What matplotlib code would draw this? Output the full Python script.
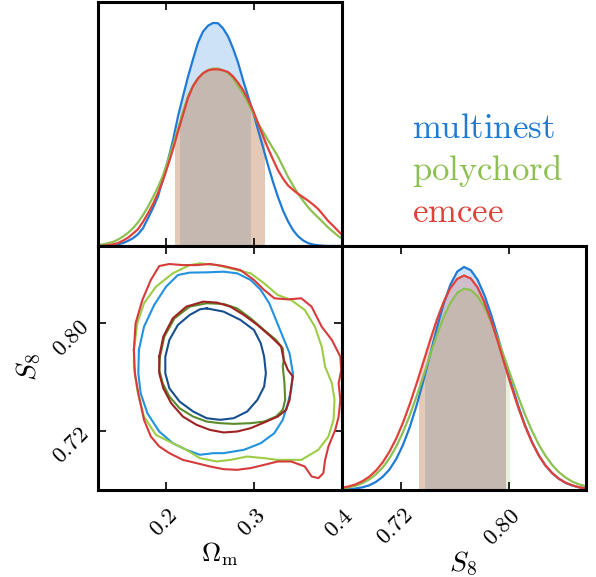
import numpy as np
import matplotlib
matplotlib.use("Agg")
import matplotlib.pyplot as plt
from matplotlib.patches import Rectangle

plt.rcParams["mathtext.fontset"] = "cm"

# --- 1D marginal of Omega_m (heights relative to panel height) ---
om_grid = np.linspace(0.1227, 0.4012, 50)  # sample positions read every ~5 px
om_multinest = [0.0, 0.0, 0.001, 0.003, 0.007, 0.012, 0.021, 0.032, 0.048, 0.073,
                0.114, 0.156, 0.203, 0.276, 0.352, 0.434, 0.531, 0.614, 0.694, 0.766,
                0.834, 0.879, 0.903, 0.914, 0.913, 0.892, 0.859, 0.810, 0.752, 0.680,
                0.614, 0.548, 0.476, 0.404, 0.331, 0.262, 0.200, 0.145, 0.101, 0.065,
                0.040, 0.023, 0.012, 0.006, 0.003, 0.001, 0.0, 0.0, 0.0, 0.0]
om_polychord = [0.003, 0.007, 0.011, 0.017, 0.026, 0.039, 0.054, 0.073, 0.097, 0.127,
                0.161, 0.200, 0.241, 0.290, 0.352, 0.414, 0.483, 0.552, 0.614, 0.658,
                0.687, 0.708, 0.721, 0.727, 0.727, 0.720, 0.709, 0.687, 0.655, 0.625,
                0.586, 0.545, 0.503, 0.469, 0.434, 0.400, 0.366, 0.324, 0.283, 0.248,
                0.214, 0.186, 0.159, 0.137, 0.117, 0.097, 0.076, 0.059, 0.041, 0.028]
om_emcee = [0.0, 0.001, 0.003, 0.007, 0.012, 0.022, 0.034, 0.051, 0.069, 0.099,
            0.134, 0.172, 0.217, 0.269, 0.331, 0.397, 0.469, 0.538, 0.607, 0.655,
            0.687, 0.708, 0.720, 0.724, 0.724, 0.720, 0.713, 0.695, 0.669, 0.639,
            0.600, 0.556, 0.503, 0.451, 0.400, 0.354, 0.310, 0.276, 0.248, 0.230,
            0.214, 0.200, 0.186, 0.170, 0.152, 0.128, 0.103, 0.083, 0.062, 0.041]
om_int_multinest = (0.2159, 0.2954)
om_int_polychord = (0.2100, 0.3117)
om_int_emcee = (0.2105, 0.3110)

# --- 1D marginal of S8 ---
s8_grid = np.linspace(0.676, 0.8575, 37)  # sample positions read every ~7 px
s8_multinest = [0.002, 0.003, 0.006, 0.011, 0.019, 0.033, 0.054, 0.084, 0.127, 0.185,
                0.258, 0.346, 0.447, 0.555, 0.664, 0.763, 0.842, 0.895, 0.914, 0.901,
                0.862, 0.799, 0.719, 0.627, 0.530, 0.434, 0.345, 0.266, 0.199, 0.144,
                0.101, 0.069, 0.046, 0.029, 0.018, 0.011, 0.006]
s8_polychord = [0.006, 0.011, 0.017, 0.028, 0.043, 0.064, 0.092, 0.130, 0.178, 0.237,
                0.306, 0.384, 0.467, 0.553, 0.635, 0.709, 0.767, 0.808, 0.825, 0.820,
                0.794, 0.749, 0.690, 0.618, 0.540, 0.460, 0.382, 0.309, 0.244, 0.188,
                0.141, 0.103, 0.073, 0.051, 0.034, 0.023, 0.015]
s8_emcee = [0.009, 0.015, 0.023, 0.036, 0.054, 0.079, 0.113, 0.157, 0.211, 0.276,
            0.352, 0.436, 0.524, 0.613, 0.698, 0.771, 0.828, 0.865, 0.879, 0.867,
            0.830, 0.770, 0.694, 0.607, 0.514, 0.423, 0.338, 0.262, 0.197, 0.143,
            0.101, 0.070, 0.046, 0.030, 0.019, 0.011, 0.007]
s8_int_multinest = (0.7375, 0.7975)
s8_int_polychord = (0.7330, 0.8000)
s8_int_emcee = (0.7330, 0.7975)

# --- 2D contours (Omega_m, S8) ---
inner_multinest_om = [0.2462, 0.2654, 0.2846, 0.3000, 0.3077, 0.3115, 0.3135, 0.3115,
                      0.3038, 0.2923, 0.2769, 0.2615, 0.2462, 0.2308, 0.2154, 0.2038,
                      0.1992, 0.1992, 0.2038, 0.2135, 0.2269, 0.2385]
inner_multinest_s8 = [0.8111, 0.8087, 0.8025, 0.7950, 0.7851, 0.7752, 0.7628, 0.7529,
                      0.7430, 0.7344, 0.7294, 0.7282, 0.7294, 0.7344, 0.7418, 0.7517,
                      0.7628, 0.7752, 0.7876, 0.7988, 0.8062, 0.8104]
inner_polychord_om = [0.1931, 0.1981, 0.2096, 0.2269, 0.2462, 0.2654, 0.2808, 0.2962,
                      0.3115, 0.3250, 0.3327, 0.3338, 0.3327, 0.3346, 0.3354, 0.3327,
                      0.3250, 0.3115, 0.2962, 0.2769, 0.2615, 0.2462, 0.2308, 0.2154,
                      0.2038, 0.1962, 0.1923]
inner_polychord_s8 = [0.7752, 0.7901, 0.8037, 0.8124, 0.8149, 0.8144, 0.8111, 0.8037,
                      0.7950, 0.7876, 0.7814, 0.7728, 0.7678, 0.7554, 0.7430, 0.7356,
                      0.7306, 0.7269, 0.7257, 0.7252, 0.7257, 0.7269, 0.7306, 0.7368,
                      0.7455, 0.7554, 0.7653]
inner_emcee_om = [0.1923, 0.1969, 0.2077, 0.2231, 0.2423, 0.2577, 0.2731, 0.2885,
                  0.3038, 0.3192, 0.3308, 0.3338, 0.3385, 0.3442, 0.3423, 0.3404,
                  0.3365, 0.3269, 0.3115, 0.2962, 0.2808, 0.2654, 0.2500, 0.2346,
                  0.2192, 0.2058, 0.1969, 0.1923]
inner_emcee_s8 = [0.7752, 0.7901, 0.8037, 0.8124, 0.8161, 0.8154, 0.8124, 0.8062,
                  0.7988, 0.7901, 0.7827, 0.7728, 0.7653, 0.7604, 0.7529, 0.7430,
                  0.7356, 0.7306, 0.7262, 0.7220, 0.7195, 0.7188, 0.7207, 0.7245,
                  0.7306, 0.7406, 0.7517, 0.7628]
outer_multinest_om = [0.1692, 0.1750, 0.1865, 0.2000, 0.2135, 0.2269, 0.2462, 0.2654,
                      0.2808, 0.2962, 0.3077, 0.3173, 0.3250, 0.3327, 0.3404, 0.3442,
                      0.3423, 0.3385, 0.3327, 0.3231, 0.3077, 0.2885, 0.2654, 0.2538,
                      0.2385, 0.2231, 0.2077, 0.1923, 0.1788, 0.1712, 0.1685]
outer_multinest_s8 = [0.7802, 0.7975, 0.8136, 0.8272, 0.8359, 0.8377, 0.8379, 0.8384,
                      0.8372, 0.8322, 0.8248, 0.8149, 0.8025, 0.7901, 0.7777, 0.7628,
                      0.7505, 0.7406, 0.7282, 0.7183, 0.7108, 0.7059, 0.7034, 0.7034,
                      0.7022, 0.7059, 0.7108, 0.7195, 0.7331, 0.7480, 0.7628]
outer_polychord_om = [0.1635, 0.1673, 0.1750, 0.1885, 0.2077, 0.2269, 0.2385, 0.2577,
                      0.2808, 0.2962, 0.3115, 0.3269, 0.3423, 0.3577, 0.3692, 0.3769,
                      0.3808, 0.3885, 0.3915, 0.3904, 0.3846, 0.3731, 0.3538, 0.3269,
                      0.3115, 0.2923, 0.2731, 0.2577, 0.2385, 0.2231, 0.2077, 0.1885,
                      0.1750, 0.1673, 0.1635]
outer_polychord_s8 = [0.7802, 0.8000, 0.8149, 0.8272, 0.8372, 0.8433, 0.8446, 0.8433,
                      0.8396, 0.8372, 0.8297, 0.8211, 0.8173, 0.8099, 0.7975, 0.7827,
                      0.7678, 0.7554, 0.7430, 0.7282, 0.7158, 0.7059, 0.6984, 0.6984,
                      0.6997, 0.7009, 0.6984, 0.6972, 0.6997, 0.7059, 0.7108, 0.7170,
                      0.7307, 0.7505, 0.7678]
outer_emcee_om = [0.1635, 0.1654, 0.1731, 0.1827, 0.1923, 0.2038, 0.2192, 0.2346,
                  0.2500, 0.2654, 0.2846, 0.3000, 0.3115, 0.3231, 0.3385, 0.3538,
                  0.3654, 0.3769, 0.3885, 0.3981, 0.3992, 0.3962, 0.3981, 0.3962,
                  0.3923, 0.3846, 0.3808, 0.3788, 0.3731, 0.3654, 0.3577, 0.3423,
                  0.3269, 0.3115, 0.2962, 0.2808, 0.2654, 0.2500, 0.2346, 0.2192,
                  0.2038, 0.1923, 0.1827, 0.1750, 0.1692, 0.1646]
outer_emcee_s8 = [0.7802, 0.8000, 0.8173, 0.8322, 0.8426, 0.8441, 0.8433, 0.8433,
                  0.8441, 0.8426, 0.8396, 0.8322, 0.8248, 0.8186, 0.8178, 0.8186,
                  0.8124, 0.7975, 0.7876, 0.7752, 0.7653, 0.7554, 0.7430, 0.7306,
                  0.7207, 0.7084, 0.6984, 0.6885, 0.6848, 0.6861, 0.6935, 0.6972,
                  0.6972, 0.6947, 0.6923, 0.6910, 0.6915, 0.6935, 0.6960, 0.6984,
                  0.7034, 0.7084, 0.7158, 0.7282, 0.7455, 0.7628]

names = ["multinest", "polychord", "emcee"]
line_colors = ["#1f7bd6", "#8cc152", "#e2403a"]
outer_colors = ["#2192e0", "#9ccd45", "#d63b3b"]
inner_colors = ["#154f8e", "#5a8a2a", "#9e2222"]

om_lim = (0.1227, 0.4)
s8_lim = (0.676, 0.8575)

fig = plt.figure(figsize=(5.96, 5.77), dpi=100)
W, H = 596, 577
ax_om = fig.add_axes([98 / W, (H - 246) / H, 244 / W, 244 / H])
ax_2d = fig.add_axes([98 / W, (H - 490) / H, 244 / W, 244 / H])
ax_s8 = fig.add_axes([342 / W, (H - 490) / H, 244 / W, 244 / H])


def draw_1d(ax, grid, curves, intervals):
    x = np.asarray(grid)
    for y, (lo, hi), c in zip(curves, intervals, line_colors):
        poly = ax.fill_between(x, 0, y, color=c, alpha=0.22, lw=0)
        clip = Rectangle((lo, 0), hi - lo, 2, transform=ax.transData)
        poly.set_clip_path(clip)
    for y, c in zip(curves, line_colors):
        ax.plot(x, y, color=c, lw=1.6)
    ax.set_ylim(0, 1.0)
    ax.set_yticks([])


draw_1d(ax_om, om_grid, [om_multinest, om_polychord, om_emcee],
        [om_int_multinest, om_int_polychord, om_int_emcee])
draw_1d(ax_s8, s8_grid, [s8_multinest, s8_polychord, s8_emcee],
        [s8_int_multinest, s8_int_polychord, s8_int_emcee])

outer = [(outer_multinest_om, outer_multinest_s8),
         (outer_polychord_om, outer_polychord_s8),
         (outer_emcee_om, outer_emcee_s8)]
inner = [(inner_multinest_om, inner_multinest_s8),
         (inner_polychord_om, inner_polychord_s8),
         (inner_emcee_om, inner_emcee_s8)]
for (ox, oy), (ix, iy), oc, ic in zip(outer, inner, outer_colors, inner_colors):
    ax_2d.plot(ox + ox[:1], oy + oy[:1], color=oc, lw=1.5)
    ax_2d.plot(ix + ix[:1], iy + iy[:1], color=ic, lw=1.5)

om_ticks = [0.2, 0.3, 0.4]
s8_ticks = [0.72, 0.80]
om_ticklabels = ["$0.2$", "$0.3$", "$0.4$"]
s8_ticklabels = ["$0.72$", "$0.80$"]

for ax in (ax_om, ax_2d):
    ax.set_xlim(om_lim)
    ax.set_xticks(om_ticks)
ax_2d.set_ylim(s8_lim)
ax_2d.set_yticks(s8_ticks)
ax_s8.set_xlim(s8_lim)
ax_s8.set_xticks(s8_ticks)

for ax in (ax_om, ax_2d, ax_s8):
    for sp in ax.spines.values():
        sp.set_linewidth(2.2)
    ax.tick_params(direction="in", length=6, width=1.2, top=True, bottom=True,
                   pad=10, labelsize=16.5)

ax_om.tick_params(labelbottom=False, left=False, right=False)
ax_s8.tick_params(left=False, right=False)
ax_2d.tick_params(axis="y", left=True, right=True, pad=9)

ax_2d.set_xticklabels(om_ticklabels, rotation=45, ha="right", va="top",
                      rotation_mode="anchor")
ax_2d.set_yticklabels(s8_ticklabels, rotation=45, ha="right", va="center",
                      rotation_mode="anchor")
ax_s8.set_xticklabels(s8_ticklabels, rotation=45, ha="right", va="top",
                      rotation_mode="anchor")

ax_2d.set_xlabel(r"$\Omega_{\rm m}$", fontsize=19)
ax_2d.xaxis.set_label_coords(0.5, -0.205)
ax_2d.set_ylabel(r"$S_8$", fontsize=20)
ax_2d.yaxis.set_label_coords(-0.225, 0.505)
ax_s8.set_xlabel(r"$S_8$", fontsize=20)
ax_s8.xaxis.set_label_coords(0.496, -0.245)

for i, (name, c) in enumerate(zip(names, line_colors)):
    fig.text(412 / W, 1 - (138 + 42 * i) / H, r"$\mathrm{%s}$" % name,
             color=c, fontsize=25, va="baseline", ha="left")

fig.savefig("out.png", dpi=100)
